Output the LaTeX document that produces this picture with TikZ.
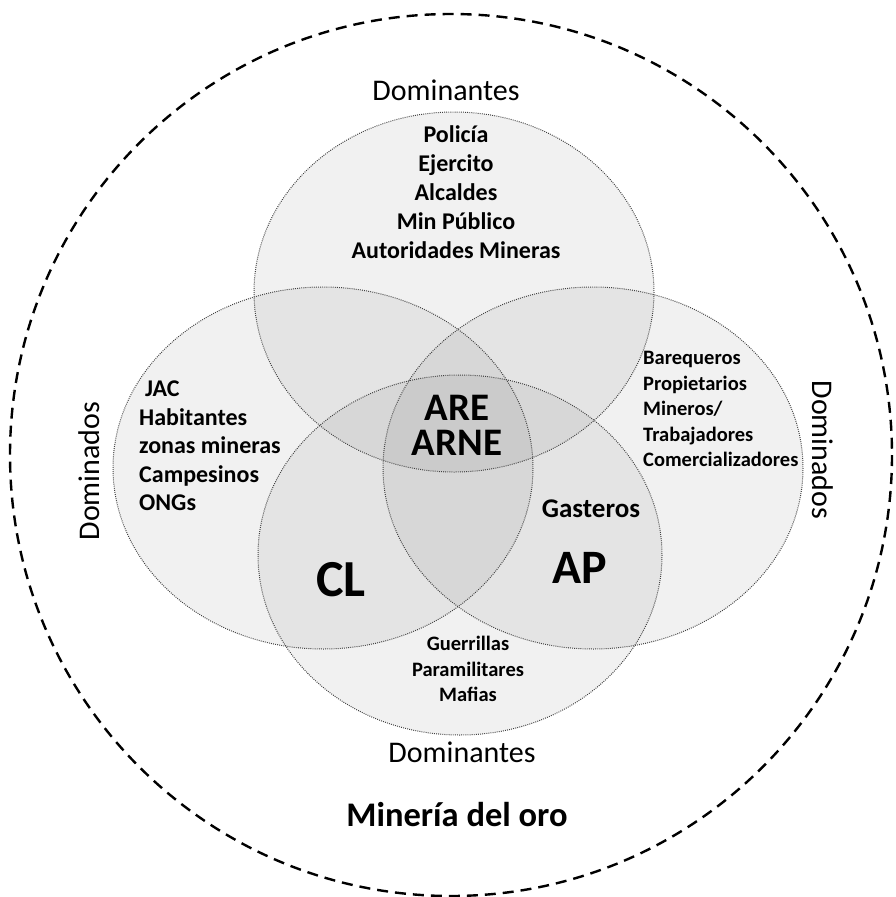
\documentclass[tikz,border=0pt]{standalone}
\usepackage{fontspec}
\setmainfont{Carlito}
\usepackage{tikz}

\begin{document}
\begin{tikzpicture}[%
      x=1pt, y=-1pt,
      conjunto/.style={fill=black, fill opacity=0.055},
      borde/.style={draw=black!75, line width=1pt, dash pattern=on 0.9pt off 1.2pt},
      etiqueta/.style={inner sep=0pt, font=\fontsize{30}{36}\selectfont},
      lista/.style={inner sep=0pt, font=\fontsize{24}{29}\selectfont\bfseries},
      listachica/.style={inner sep=0pt, font=\fontsize{20.5}{25.5}\selectfont\bfseries},
      ]
      \useasboundingbox (0,0) rectangle (896,897);

      % marco: la mineria del oro
      \draw [line width=2.4pt, dash pattern=on 11pt off 7pt] (451,455) circle (441);

      % los cuatro conjuntos
      \foreach \cx/\cy/\rx/\ry in {454/292/200/180, 323/468/210/181, 593/468/210/181, 460/555/202/180}
        \fill [conjunto] (\cx,\cy) ellipse ({\rx} and {\ry});
      \foreach \cx/\cy/\rx/\ry in {454/292/200/180, 323/468/210/181, 593/468/210/181, 460/555/202/180}
        \draw [borde] (\cx,\cy) ellipse ({\rx} and {\ry});

      \node [etiqueta] (domarriba) at (446,90) {Dominantes};
      \node [etiqueta] (domabajo) at (462,752) {Dominantes};
      \node [etiqueta, rotate=90] (domizq) at (89,471) {Dominados};
      \node [etiqueta, rotate=-90] (domder) at (823,450) {Dominados};

      \node [lista, align=center] (estado) at (456,192)
            {Policía\\Ejercito\\Alcaldes\\Min Público\\Autoridades Mineras};
      \node [lista, align=left, anchor=west, font=\fontsize{24}{28.5}\selectfont\bfseries] (comunidad) at (139,446)
            {\hspace{6pt}JAC\\Habitantes\\zonas mineras\\Campesinos\\ONGs};
      \node [listachica, align=left, anchor=west] (mineros) at (643,409)
            {Barequeros\\Propietarios\\Mineros/\\Trabajadores\\Comercializadores};
      \node [listachica, align=center] (ilegales) at (468,669)
            {Guerrillas\\Paramilitares\\Mafias};

      \node [inner sep=0pt, font=\fontsize{27}{30}\selectfont\bfseries] (gasteros) at (591,509) {Gasteros};
      \node [inner sep=0pt, align=center, font=\fontsize{39}{35}\selectfont\bfseries] (centro) at (457,425) {ARE\\ARNE};
      \node [inner sep=0pt, font=\fontsize{52}{60}\selectfont\bfseries] (cl) at (341,580) {CL};
      \node [inner sep=0pt, font=\fontsize{48}{56}\selectfont\bfseries] (ap) at (580,568) {AP};

      \node [inner sep=0pt, font=\fontsize{34.5}{40}\selectfont\bfseries] (titulo) at (457,815) {Minería del oro};
\end{tikzpicture}
\end{document}
